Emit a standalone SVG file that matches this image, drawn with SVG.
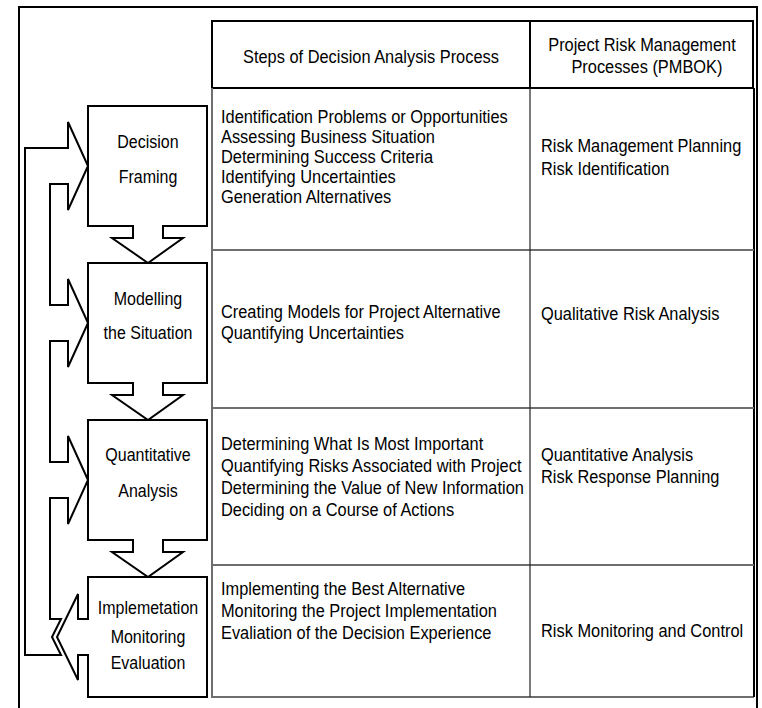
<svg xmlns="http://www.w3.org/2000/svg" width="762" height="708" viewBox="0 0 762 708">
<style>
.t{font-family:"Liberation Sans",Arial,sans-serif;font-size:18.5px;fill:#000}
.m{text-anchor:middle}
.shape{fill:#fff;stroke:#000;stroke-width:2;stroke-linejoin:miter}
.gray{stroke:#6e6e6e;stroke-width:2;fill:none}
.dark{stroke:#000;stroke-width:2;fill:none}
.thin{stroke:#222;stroke-width:1.2;fill:none}
</style>
<rect width="762" height="708" fill="#fff"/>
<path id="frame" class="dark" d="M19,712 V7 H757 V712"/>
<g id="table">
<rect class="dark" x="212" y="21" width="541" height="67"/>
<line class="dark" x1="530" y1="21" x2="530" y2="88"/>
<path class="gray" d="M212,88 V697 H754"/>
<line class="dark" x1="754" y1="88" x2="754" y2="697"/>
<line class="gray" x1="212" y1="250" x2="754" y2="250"/>
<line class="gray" x1="212" y1="408" x2="754" y2="408"/>
<line class="gray" x1="212" y1="565" x2="754" y2="565"/>
<line class="thin" x1="530" y1="88" x2="530" y2="697"/>
<g transform="scale(0.886,1)">
<text class="t m" x="418.7" y="63">Steps of Decision Analysis Process</text>
<text class="t m" x="724.6" y="51">Project Risk Management</text>
<text class="t m" x="730.2" y="73">Processes (PMBOK)</text>
<text class="t" x="249.4" y="123">Identification Problems or Opportunities</text>
<text class="t" x="249.4" y="143">Assessing Business Situation</text>
<text class="t" x="249.4" y="163">Determining Success Criteria</text>
<text class="t" x="249.4" y="183">Identifying Uncertainties</text>
<text class="t" x="249.4" y="203">Generation Alternatives</text>
<text class="t" x="610.6" y="152">Risk Management Planning</text>
<text class="t" x="610.6" y="175">Risk Identification</text>
<text class="t" x="249.4" y="318">Creating Models for Project Alternative</text>
<text class="t" x="249.4" y="339">Quantifying Uncertainties</text>
<text class="t" x="610.6" y="320">Qualitative Risk Analysis</text>
<text class="t" x="249.4" y="450">Determining What Is Most Important</text>
<text class="t" x="249.4" y="472">Quantifying Risks Associated with Project</text>
<text class="t" x="249.4" y="494">Determining the Value of New Information</text>
<text class="t" x="249.4" y="516">Deciding on a Course of Actions</text>
<text class="t" x="610.6" y="461">Quantitative Analysis</text>
<text class="t" x="610.6" y="483">Risk Response Planning</text>
<text class="t" x="249.4" y="595">Implementing the Best Alternative</text>
<text class="t" x="249.4" y="617">Monitoring the Project Implementation</text>
<text class="t" x="249.4" y="639">Evaliation of the Decision Experience</text>
<text class="t" x="610.6" y="637">Risk Monitoring and Control</text>
</g>
</g>
<g id="connectors">
<path class="shape" d="M25,148 H68 V122 L88,166 L68,210 V184 H50 V305 H68 V279 L88,323 L68,367 V341 H50 V462 H68 V436 L88,480 L68,524 V498 H50 V619 H61 L52,637 L61,655 H25 Z"/>
</g>
<g id="decision-framing">
<path class="shape" d="M88,106 H207 V226 H163 V238 H183 L148,263 L112,238 H133 V226 H88 Z"/>
<g transform="scale(0.865,1)">
<text class="t m" x="171.1" y="148">Decision</text>
<text class="t m" x="171.1" y="183">Framing</text>
</g>
</g>
<g id="modelling-situation">
<path class="shape" d="M88,263 H207 V383 H163 V395 H183 L148,420 L112,395 H133 V383 H88 Z"/>
<g transform="scale(0.865,1)">
<text class="t m" x="171.1" y="305">Modelling</text>
<text class="t m" x="171.1" y="339">the Situation</text>
</g>
</g>
<g id="quantitative-analysis">
<path class="shape" d="M88,420 H207 V540 H163 V552 H183 L148,577 L112,552 H133 V540 H88 Z"/>
<g transform="scale(0.865,1)">
<text class="t m" x="171.1" y="461">Quantitative</text>
<text class="t m" x="171.1" y="497">Analysis</text>
</g>
</g>
<g id="implementation">
<path class="shape" d="M88,577 H207 V697 H88 V655 H78 V680 L57,637 L78,594 V619 H88 Z"/>
<g transform="scale(0.865,1)">
<text class="t m" x="171.1" y="614">Implemetation</text>
<text class="t m" x="171.1" y="643">Monitoring</text>
<text class="t m" x="171.1" y="669">Evaluation</text>
</g>
</g>
</svg>
